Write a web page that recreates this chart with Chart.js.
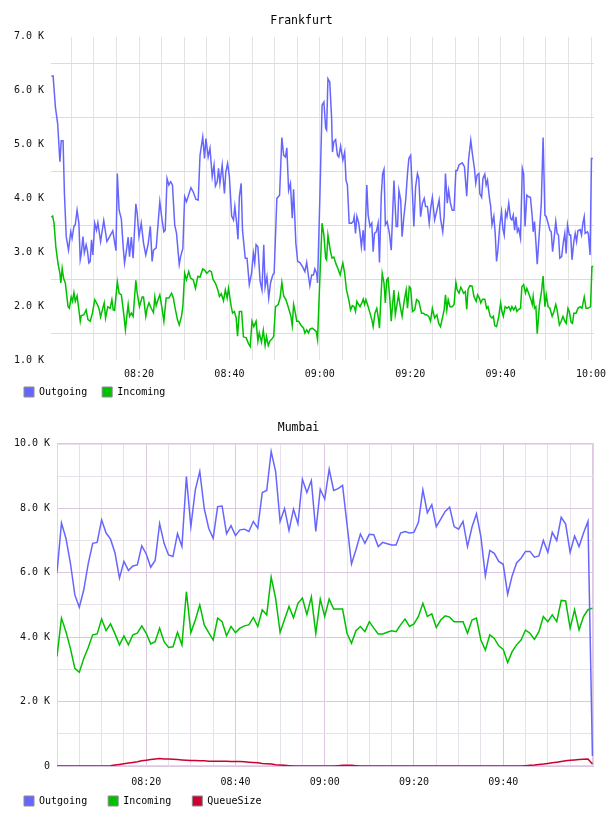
<!DOCTYPE html>
<html>
<head>
<meta charset="utf-8">
<title>Frankfurt / Mumbai</title>
<script src="https://cdn.jsdelivr.net/npm/chart.js@4.4.1/dist/chart.umd.min.js"></script>
<style>
  html, body { margin: 0; padding: 0; background: #fff; overflow: hidden; }
  #wrap { position: relative; width: 608px; height: 816px; overflow: hidden; }
  canvas { position: absolute; left: 0; }
</style>
</head>
<body>
<div id="wrap">
  <canvas id="frankfurt" width="608" height="415" style="top:0"></canvas>
  <canvas id="mumbai" width="608" height="420" style="top:407px"></canvas>
</div>
<script>
// minutes after 08:00, values in thousands

// Frankfurt - Outgoing
const fraOutgoingMin = [
  0.6, 1.0, 1.5, 2.0, 2.5, 2.8, 3.2, 3.5, 3.9, 4.4, 4.9, 5.2, 5.6, 5.9, 6.3, 6.7, 7.0, 7.2, 7.6, 7.9,
  8.3, 8.6, 8.9, 9.2, 9.5, 9.8, 10.2, 10.6, 10.9, 11.5, 12.2, 12.9, 13.5, 14.2, 14.9, 15.2, 15.6, 16.1, 16.5, 16.8,
  17.2, 17.6, 17.9, 18.3, 18.7, 19.3, 19.6, 20.0, 20.5, 21.0, 21.5, 22.0, 22.5, 22.9, 23.2, 23.8, 24.6, 25.1, 25.5, 25.8,
  26.2, 26.6, 27.0, 27.4, 27.9, 28.3, 28.9, 29.2, 29.7, 30.1, 30.5,
  31.5, 32.0, 32.6, 33.1, 33.5, 34.1, 34.5, 34.8, 35.3, 35.7, 36.2, 36.6, 36.9, 37.3, 37.6, 37.9, 38.4, 38.9, 39.2, 39.6,
  40.0, 40.5, 40.9, 41.2, 41.6, 41.9, 42.2, 42.6, 42.9, 43.5, 43.9, 44.4, 44.9, 45.3, 45.6, 45.9, 46.3, 46.8, 47.2, 47.6,
  47.9, 48.3, 48.7, 49.1, 49.6, 49.9, 50.5, 51.1, 51.6, 52.0, 52.4, 52.7, 53.1, 53.5, 53.9, 54.2, 54.7, 55.1, 55.6, 56.2,
  56.7, 57.1, 57.5, 57.8, 58.2, 58.6, 58.9, 59.3, 59.5, 60.0, 60.5,
  60.9, 61.3, 61.5, 61.8, 62.2, 62.6, 62.8, 63.1, 63.5, 63.9, 64.2, 64.6, 65.1, 65.5, 65.8, 66.1, 66.5, 67.0, 67.4, 67.6,
  67.9, 68.2, 68.6, 68.9, 69.2, 69.6, 69.9, 70.4, 70.7, 71.1, 71.5, 71.8, 72.1, 72.5, 72.9, 73.2, 73.6, 73.9, 74.2, 74.5,
  74.9, 75.4, 75.8, 76.4, 76.9, 77.2, 77.5, 77.9, 78.2, 78.6, 79.0, 79.4, 79.7, 80.1, 80.5, 80.8, 81.2, 81.6, 81.9, 82.3,
  82.7, 83.1, 83.4, 83.8, 84.2, 84.5, 84.9, 85.4, 85.9, 86.4, 86.7, 87.2, 87.5, 87.8, 88.2, 88.5, 88.9, 89.3, 89.7, 90.1,
  90.4, 90.8, 91.3,
  91.5, 92.0, 92.5, 92.9, 93.4, 93.8, 94.2, 94.5, 94.8, 95.2, 95.4, 95.8, 96.1, 96.5, 96.8, 97.1, 97.5, 97.8, 98.1, 98.5,
  98.8, 99.1, 99.4, 99.8, 100.2, 100.5, 100.8, 101.1, 101.4, 101.8, 102.2, 102.5, 102.8, 103.1, 103.4, 103.7, 104.0, 104.4, 104.8, 105.1,
  105.4, 105.8, 106.2, 106.6, 107.0, 107.2, 107.5, 107.8, 108.1, 108.6, 109.0, 109.4, 109.8, 110.1, 110.5, 110.9, 111.2, 111.5, 111.8, 112.2,
  112.5, 112.8, 113.1, 113.5, 113.9, 114.2, 114.5, 114.8, 115.2, 115.5, 115.8, 116.2, 116.5, 116.8, 117.1, 117.6, 117.9, 118.2, 118.5, 118.7,
  119.2, 119.4, 119.8, 120.1, 120.4
];
const fraOutgoingK = [
  6.27, 6.27, 5.70, 5.39, 4.68, 5.07, 5.07, 4.09, 3.29, 3.04, 3.38, 3.26, 3.48, 3.51, 3.78, 3.54, 2.86, 2.95, 3.29, 2.99,
  3.14, 3.02, 2.80, 2.83, 3.23, 2.95, 3.54, 3.41, 3.55, 3.20, 3.59, 3.20, 3.29, 3.40, 3.03, 4.46, 3.78, 3.61, 3.10, 2.80,
  3.02, 3.28, 2.92, 3.28, 2.89, 3.90, 3.72, 3.29, 3.54, 3.17, 2.95, 3.14, 3.48, 2.83, 3.04, 3.08, 3.94, 3.60, 3.38, 3.41,
  4.37, 4.25, 4.31, 4.25, 3.51, 3.35, 2.77, 2.92, 3.07, 4.03, 3.94,
  4.20, 4.12, 3.98, 3.97, 4.80, 5.14, 4.74, 5.11, 4.77, 4.93, 4.40, 4.62, 4.23, 4.31, 4.56, 4.28, 4.62, 4.09, 4.49, 4.65,
  4.40, 3.67, 3.60, 3.85, 3.54, 3.24, 4.03, 4.28, 3.41, 2.89, 2.89, 2.40, 2.61, 2.98, 2.80, 3.14, 3.10, 2.46, 2.30, 3.14,
  2.36, 2.55, 2.15, 2.43, 2.58, 2.61, 4.00, 4.06, 5.13, 4.80, 4.77, 4.94, 4.15, 4.28, 3.63, 4.17, 3.17, 2.83, 2.81, 2.73,
  2.64, 2.81, 2.55, 2.38, 2.58, 2.58, 2.69, 2.61, 2.43, 3.97, 5.73,
  5.79, 5.30, 5.27, 6.22, 6.16, 5.51, 4.86, 5.05, 5.09, 4.80, 4.77, 4.97, 4.71, 4.86, 4.34, 4.25, 3.54, 3.54, 3.57, 3.66,
  3.35, 3.67, 3.55, 3.35, 3.10, 3.41, 3.03, 4.25, 3.69, 3.48, 3.54, 3.01, 3.35, 3.38, 3.54, 2.81, 4.06, 4.46, 4.54, 3.51,
  3.57, 3.35, 3.04, 4.33, 3.48, 3.48, 4.15, 3.97, 3.29, 3.66, 3.97, 4.46, 4.74, 4.80, 4.09, 3.48, 4.22, 4.46, 4.37, 3.66,
  3.91, 4.00, 3.85, 3.85, 3.54, 3.80, 4.02, 3.60, 3.78, 3.97, 3.63, 3.38, 3.66, 4.46, 3.91, 4.15, 3.91, 3.78, 3.78, 4.52,
  4.52, 4.62, 4.65,
  4.66, 4.59, 4.04, 4.71, 5.08, 4.80, 4.56, 4.28, 4.43, 4.46, 4.09, 4.02, 4.37, 4.45, 4.25, 4.34, 4.03, 3.85, 3.51, 3.67,
  3.35, 2.83, 3.04, 3.48, 3.75, 3.44, 3.32, 3.75, 3.66, 3.91, 3.63, 3.60, 3.69, 3.41, 3.66, 3.38, 3.44, 3.26, 4.56, 4.46,
  3.48, 4.06, 4.03, 4.02, 3.66, 3.38, 3.57, 3.20, 2.78, 3.41, 3.91, 5.13, 3.69, 3.66, 3.54, 3.41, 3.38, 3.01, 3.23, 3.57,
  3.35, 3.32, 2.89, 2.92, 3.20, 3.35, 2.98, 3.51, 3.32, 3.32, 2.86, 3.20, 3.35, 3.20, 3.40, 3.42, 3.32, 3.54, 3.66, 3.35,
  3.38, 3.35, 2.95, 4.74, 4.74
];

// Frankfurt - Incoming
const fraIncomingMin = [
  0.6, 0.9, 1.2, 1.6, 2.1, 2.5, 2.7, 3.0, 3.3, 3.7, 4.3, 4.6, 5.0, 5.3, 5.6, 5.9, 6.3, 6.7, 7.0, 7.2,
  7.8, 8.3, 8.7, 9.2, 9.7, 10.2, 10.8, 11.2, 11.5, 11.9, 12.3, 12.6, 13.1, 13.6, 14.0, 14.3, 14.6, 15.2, 15.6, 16.1,
  16.6, 17.0, 17.3, 17.6, 17.9, 18.3, 18.7, 19.3, 19.6, 20.1, 20.7, 21.0, 21.5, 21.8, 22.2, 22.7, 23.2, 23.5, 23.8, 24.2,
  24.6, 25.1, 25.5, 26.0, 26.6, 27.2, 27.6, 28.0, 28.5, 28.9, 29.4, 29.7, 30.1, 30.5,
  31.0, 31.4, 32.0, 32.5, 33.0, 33.5, 34.1, 34.5, 35.0, 35.6, 36.0, 36.4, 36.9, 37.4, 37.8, 38.2, 38.7, 39.1, 39.5, 39.8,
  40.4, 40.7, 41.1, 41.5, 41.8, 42.2, 42.7, 43.1, 43.7, 44.2, 44.6, 45.0, 45.4, 45.9, 46.3, 46.6, 47.1, 47.5, 47.9, 48.2,
  48.6, 49.0, 49.4, 49.8, 50.2, 50.8, 51.2, 51.6, 52.0, 52.5, 53.1, 53.6, 53.9, 54.2, 54.6, 54.9, 55.3, 55.8, 56.4, 56.7,
  57.1, 57.5, 57.8, 58.3, 58.8, 59.2, 59.5, 60.0, 60.5,
  60.9, 61.3, 61.5, 61.8, 62.3, 62.7, 63.1, 63.6, 64.0, 64.5, 64.8, 65.1, 65.5, 65.9, 66.4, 66.8, 67.2, 67.6, 67.9, 68.2,
  68.6, 68.9, 69.3, 69.6, 69.9, 70.2, 70.7, 71.1, 71.5, 71.8, 72.2, 72.6, 72.9, 73.2, 73.5, 73.8, 74.2, 74.5, 74.8, 75.1,
  75.5, 75.8, 76.1, 76.4, 76.7, 77.0, 77.4, 77.8, 78.2, 78.6, 79.1, 79.4, 79.8, 80.1, 80.5, 81.0, 81.4, 81.9, 82.5, 82.9,
  83.3, 83.6, 84.1, 84.5, 84.9, 85.4, 85.9, 86.3, 86.7, 87.2, 87.5, 87.8, 88.1, 88.4, 88.8, 89.3, 89.7, 90.1, 90.4, 90.8,
  91.2,
  91.5, 91.8, 92.2, 92.5, 92.8, 93.2, 93.7, 94.1, 94.6, 94.9, 95.3, 95.6, 96.0, 96.5, 96.9, 97.2, 97.7, 98.1, 98.4, 98.7,
  99.1, 99.6, 100.0, 100.3, 100.6, 101.0, 101.4, 101.8, 102.2, 102.5, 102.9, 103.3, 103.6, 104.0, 104.4, 104.7, 105.1, 105.5, 105.8, 106.2,
  106.7, 107.0, 107.2, 107.5, 107.8, 108.1, 108.6, 109.0, 109.4, 109.8, 110.1, 110.5, 110.9, 111.4, 111.8, 112.2, 112.5, 113.0, 113.4, 113.8,
  114.2, 114.5, 114.9, 115.2, 115.6, 115.9, 116.2, 116.7, 117.1, 117.6, 118.0, 118.5, 118.9, 119.3, 119.9, 120.2, 120.5
];
const fraIncomingK = [
  3.65, 3.67, 3.54, 3.10, 2.78, 2.61, 2.43, 2.70, 2.52, 2.43, 1.99, 1.96, 2.17, 2.09, 2.25, 2.09, 2.19, 1.93, 1.72, 1.82,
  1.84, 1.93, 1.75, 1.72, 1.87, 2.12, 2.03, 1.94, 1.80, 1.93, 2.06, 1.78, 1.99, 1.96, 2.12, 1.93, 1.92, 2.45, 2.24, 2.21,
  1.87, 1.56, 1.81, 2.03, 1.81, 1.87, 1.81, 2.48, 2.24, 1.99, 2.17, 2.17, 1.81, 1.96, 2.06, 1.96, 1.88, 2.17, 2.01, 2.12,
  2.21, 1.96, 1.72, 2.15, 2.15, 2.24, 2.15, 1.96, 1.75, 1.65, 1.81, 1.99, 2.61, 2.49,
  2.64, 2.52, 2.49, 2.33, 2.55, 2.54, 2.69, 2.67, 2.61, 2.66, 2.64, 2.49, 2.43, 2.31, 2.18, 2.23, 2.10, 2.30, 2.15, 2.33,
  1.99, 1.87, 1.90, 1.78, 1.44, 1.90, 1.90, 1.43, 1.41, 1.31, 1.25, 1.72, 1.62, 1.72, 1.35, 1.50, 1.33, 1.55, 1.27, 1.44,
  1.27, 1.36, 1.39, 1.44, 1.99, 2.03, 2.15, 2.44, 2.19, 2.12, 1.96, 1.81, 1.64, 2.03, 1.87, 1.72, 1.72, 1.65, 1.59, 1.50,
  1.56, 1.50, 1.57, 1.59, 1.56, 1.53, 1.38, 2.49, 3.54,
  3.32, 2.89, 2.86, 3.32, 3.04, 2.89, 2.91, 2.78, 2.70, 2.58, 2.70, 2.80, 2.61, 2.30, 2.12, 1.93, 2.01, 1.99, 1.90, 2.09,
  2.03, 1.99, 2.06, 2.13, 2.03, 2.12, 1.99, 1.87, 1.75, 1.62, 1.87, 1.96, 1.81, 1.59, 2.12, 2.61, 2.43, 2.06, 2.49, 2.52,
  2.12, 1.72, 2.03, 2.30, 1.84, 1.99, 2.21, 1.99, 1.81, 2.06, 2.30, 1.96, 2.36, 2.33, 1.90, 1.93, 2.12, 2.09, 1.87, 1.87,
  1.84, 1.84, 1.81, 1.72, 1.96, 1.78, 1.84, 1.68, 1.62, 1.81, 1.93, 2.21, 1.93, 2.12, 1.99, 1.99, 2.03, 2.44, 2.30, 2.24,
  2.35,
  2.30, 2.24, 2.27, 1.94, 2.31, 2.38, 2.37, 2.18, 2.09, 2.21, 2.15, 2.06, 2.13, 2.13, 1.96, 1.99, 1.81, 1.78, 1.81, 1.64,
  1.62, 1.81, 2.06, 1.90, 1.81, 1.99, 1.96, 1.99, 1.92, 1.99, 1.93, 1.99, 1.90, 1.94, 1.96, 2.36, 2.40, 2.24, 2.33, 2.24,
  2.12, 2.03, 2.18, 1.96, 1.99, 1.49, 2.03, 2.24, 2.56, 1.99, 2.21, 1.99, 1.96, 1.81, 1.90, 2.03, 1.93, 1.65, 1.72, 1.81,
  1.72, 1.68, 1.96, 1.90, 1.70, 1.68, 1.87, 1.87, 1.96, 1.99, 1.96, 2.17, 1.96, 1.96, 1.99, 2.73, 2.74
];

// Mumbai - one sample per minute from 08:00
const mumOutgoingK = [
  6.00, 7.54, 7.07, 6.30, 5.31, 4.93, 5.47, 6.28, 6.91, 6.94,
  7.64, 7.23, 7.04, 6.61, 5.83, 6.35, 6.07, 6.21, 6.24, 6.83,
  6.58, 6.17, 6.38, 7.52, 6.91, 6.55, 6.50, 7.21, 6.81, 8.98,
  7.43, 8.57, 9.14, 7.99, 7.38, 7.07, 8.05, 8.07, 7.21, 7.46,
  7.15, 7.33, 7.35, 7.28, 7.59, 7.38, 8.49, 8.55, 9.76, 9.14,
  7.59, 7.99, 7.31, 7.97, 7.52, 8.90, 8.49, 8.86, 7.28, 8.59,
  8.28, 9.21, 8.55, 8.61, 8.71, 7.50, 6.27, 6.71, 7.20, 6.91,
  7.19, 7.18, 6.81, 6.94, 6.90, 6.86, 6.86, 7.23, 7.28, 7.23,
  7.25, 7.56, 8.57, 7.86, 8.11, 7.43, 7.66, 7.90, 8.03, 7.43,
  7.35, 7.59, 6.81, 7.41, 7.83, 7.12, 5.90, 6.69, 6.60, 6.35,
  6.26, 5.33, 5.90, 6.30, 6.45, 6.66, 6.66, 6.48, 6.52, 7.00,
  6.63, 7.25, 7.00, 7.72, 7.51, 6.63, 7.14, 6.81, 7.23, 7.59,
  0.31
];
const mumIncomingK = [
  3.40, 4.59, 4.17, 3.65, 3.03, 2.91, 3.34, 3.68, 4.07, 4.10,
  4.56, 4.20, 4.41, 4.10, 3.76, 4.04, 3.76, 4.07, 4.12, 4.35,
  4.12, 3.79, 3.86, 4.28, 3.86, 3.68, 3.70, 4.15, 3.76, 5.41,
  4.14, 4.53, 5.00, 4.38, 4.14, 3.91, 4.59, 4.48, 4.04, 4.33,
  4.14, 4.28, 4.35, 4.38, 4.61, 4.33, 4.85, 4.69, 5.86, 5.20,
  4.15, 4.55, 4.95, 4.60, 5.05, 5.21, 4.70, 5.25, 4.12, 5.18,
  4.64, 5.18, 4.87, 4.87, 4.87, 4.12, 3.81, 4.20, 4.33, 4.17,
  4.48, 4.28, 4.10, 4.10, 4.15, 4.20, 4.17, 4.38, 4.56, 4.33,
  4.41, 4.64, 5.05, 4.64, 4.72, 4.30, 4.53, 4.66, 4.62, 4.48,
  4.48, 4.48, 4.12, 4.53, 4.59, 3.91, 3.60, 4.07, 3.96, 3.73,
  3.62, 3.21, 3.55, 3.76, 3.91, 4.22, 4.12, 3.93, 4.17, 4.64,
  4.48, 4.69, 4.48, 5.14, 5.12, 4.28, 4.85, 4.22, 4.64, 4.85,
  4.90
];
const mumQueueK = [
  0, 0, 0, 0, 0, 0, 0, 0, 0, 0,
  0, 0, 0.01, 0.03, 0.05, 0.07, 0.09, 0.11, 0.13, 0.16,
  0.18, 0.20, 0.22, 0.23, 0.22, 0.22, 0.21, 0.20, 0.19, 0.18,
  0.17, 0.17, 0.16, 0.16, 0.15, 0.15, 0.15, 0.15, 0.15, 0.14,
  0.14, 0.14, 0.13, 0.12, 0.11, 0.10, 0.08, 0.07, 0.06, 0.04,
  0.03, 0.02, 0.01, 0, 0, 0, 0, 0, 0, 0,
  0, 0, 0, 0.01, 0.02, 0.02, 0.02, 0.01, 0, 0,
  0, 0, 0, 0, 0, 0, 0, 0, 0, 0,
  0, 0, 0, 0, 0, 0, 0, 0, 0, 0,
  0, 0, 0, 0, 0, 0, 0, 0, 0, 0,
  0, 0, 0, 0, 0, 0.01, 0.02, 0.03, 0.05, 0.06,
  0.08, 0.10, 0.12, 0.14, 0.16, 0.18, 0.19, 0.20, 0.21, 0.22,
  0.06
];
const mumMinutes = mumOutgoingK.map((_, i) => i);

const seriesColors = { Outgoing: '#6666ff', Incoming: '#00c000', QueueSize: '#cc0033' };
const mono = 'DejaVu Sans Mono';

function hhmm(m) {
  const h = 8 + Math.floor(m / 60);
  const mm = m % 60;
  return String(h).padStart(2, '0') + ':' + String(mm).padStart(2, '0');
}

function isMultiple(v, step) {
  return Math.abs(v / step - Math.round(v / step)) < 1e-6;
}

function steps(from, to, step) {
  const out = [];
  for (let v = from; v <= to + 1e-9; v += step) out.push({ value: Math.round(v * 100) / 100 });
  return out;
}

function line(label, xs, ys) {
  return {
    label: label,
    data: xs.map((x, i) => ({ x: x, y: ys[i] })),
    borderColor: seriesColors[label],
    borderWidth: 1.5,
    pointRadius: 0,
    tension: 0,
    fill: false
  };
}

// thin frame around the Mumbai plot area
const framePlugin = {
  id: 'frame',
  beforeDatasetsDraw(chart) {
    const { ctx, chartArea: a } = chart;
    ctx.save();
    ctx.strokeStyle = '#e4d4ea';
    ctx.lineWidth = 1;
    ctx.strokeRect(a.left + 0.5, a.top + 0.5, a.right - a.left - 1, a.bottom - a.top - 1);
    ctx.restore();
  }
};

// pull the legend up so it sits closer under the time labels
const legendLift = {
  id: 'legendLift',
  afterLayout(chart, args, opts) {
    const lg = chart.legend;
    if (!lg) return;
    lg.top -= opts.lift;
    lg.bottom -= opts.lift;
  }
};

function makeChart(id, cfg) {
  return new Chart(document.getElementById(id), {
    type: 'line',
    data: { datasets: cfg.datasets },
    options: {
      responsive: false,
      animation: false,
      layout: { padding: { left: cfg.padLeft, right: 14, top: 0, bottom: 0 } },
      plugins: {
        title: {
          display: true,
          text: cfg.title,
          color: '#000',
          font: { family: mono, size: 11.5, weight: 'normal' },
          padding: { top: 14, bottom: 9 }
        },
        legend: {
          position: 'bottom',
          align: 'start',
          labels: {
            boxWidth: 10,
            boxHeight: 10,
            padding: cfg.legendGap,
            color: '#000',
            font: { family: mono, size: 10 },
            generateLabels: chart => chart.data.datasets.map((d, i) => ({
              text: d.label,
              fillStyle: d.borderColor,
              strokeStyle: '#8c8c8c',
              lineWidth: 1,
              hidden: false,
              datasetIndex: i
            }))
          }
        },
        legendLift: { lift: cfg.legendLift },
        tooltip: { enabled: false }
      },
      scales: {
        x: {
          type: 'linear',
          min: cfg.xMin,
          max: cfg.xMax,
          afterBuildTicks: s => { s.ticks = steps(5, 120, 5); },
          afterFit: s => { s.height = 20; s.paddingLeft = 0; s.paddingRight = 0; },
          border: { display: false },
          grid: { color: cfg.xGrid, drawTicks: false },
          ticks: {
            autoSkip: false,
            maxRotation: 0,
            padding: cfg.xPad,
            color: '#111',
            font: { family: mono, size: 10 },
            callback: v => (isMultiple(v, 20) && v <= cfg.lastLabel) ? hhmm(v) : ''
          }
        },
        y: {
          min: cfg.yMin,
          max: cfg.yMax,
          afterBuildTicks: s => { s.ticks = steps(cfg.yMin, cfg.yMax, cfg.yStep); },
          afterFit: s => { s.width = cfg.yWidth; },
          border: { display: false },
          grid: { color: cfg.yGrid, drawTicks: false },
          ticks: {
            padding: 7,
            color: '#111',
            font: { family: mono, size: 10 },
            callback: cfg.yLabel
          }
        }
      }
    },
    plugins: cfg.frame ? [framePlugin, legendLift] : [legendLift]
  });
}

makeChart('frankfurt', {
  title: 'Frankfurt',
  datasets: [
    line('Outgoing', fraOutgoingMin, fraOutgoingK),
    line('Incoming', fraIncomingMin, fraIncomingK)
  ],
  padLeft: 9, legendGap: 15, legendLift: 8, yWidth: 42, xPad: 8,
  xMin: 0.53, xMax: 120.66, lastLabel: 120,
  yMin: 1, yMax: 7, yStep: 0.5,
  xGrid: '#e3e3e3',
  yGrid: c => isMultiple(c.tick.value, 1) ? 'rgba(0,0,0,0)' : '#dcdcdc',
  yLabel: v => isMultiple(v, 1) ? v.toFixed(1) + ' K' : '',
  frame: false
});

makeChart('mumbai', {
  title: 'Mumbai',
  datasets: [
    line('Outgoing', mumMinutes, mumOutgoingK),
    line('Incoming', mumMinutes, mumIncomingK),
    line('QueueSize', mumMinutes, mumQueueK)
  ],
  padLeft: 3, legendGap: 21, legendLift: 11, yWidth: 54, xPad: 10,
  xMin: 0, xMax: 120.35, lastLabel: 100,
  yMin: 0, yMax: 10, yStep: 1,
  xGrid: c => isMultiple(c.tick.value, 20) ? '#dcc6e0' : '#e8e0ea',
  yGrid: c => isMultiple(c.tick.value, 2) ? '#dcc6e0' : '#e8e0ea',
  yLabel: v => isMultiple(v, 2) ? (v === 0 ? '0' : v.toFixed(1) + ' K') : '',
  frame: true
});
</script>
</body>
</html>
